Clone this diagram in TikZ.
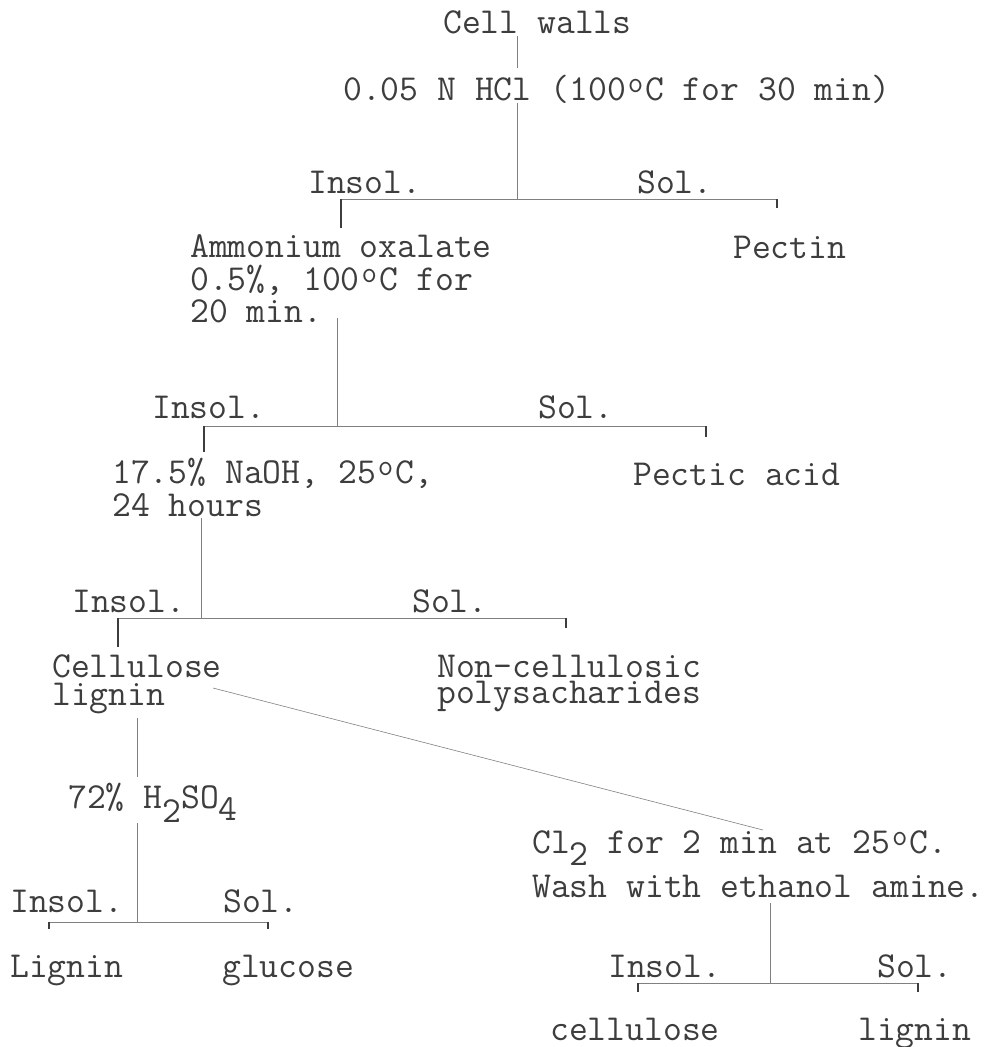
\documentclass[tikz,border=0pt]{standalone}
\usepackage{tikz}
\definecolor{ink}{gray}{0.24}
\definecolor{rule}{gray}{0.5}
\newcommand\degr{\makebox[19.2pt][c]{\raisebox{8pt}{\fontsize{30}{30}\selectfont o}}}
\newcommand\lowsub[2]{\raisebox{-#1}{#2}}
\tikzset{
  txt/.style={anchor=base west, inner sep=0pt, text=ink, text height=20pt, text depth=3pt,
    font=\fontsize{36.6}{37}\selectfont\ttfamily},
  conn/.style={draw=rule, line width=0.6pt},
  tick/.style={draw=ink, line width=1.4pt}
}
\begin{document}
\begin{tikzpicture}[x=1pt,y=-1pt]
\useasboundingbox (0,0) rectangle (993,1047);
% texts
\node[txt] (cw) at (443,33) {Cell walls};
\node[txt] (hcl) at (343,100) {0.05 N HCl (100\degr C for 30 min)};
\node[txt] (insolA) at (308,193) {Insol.};
\node[txt] (solA) at (637,193) {Sol.};
\node[txt] (pectin) at (733,258) {Pectin};
\node[txt] (ammA) at (190,257) {Ammonium oxalate};
\node[txt] (ammB) at (190,290) {0.5\%, 100\degr C for};
\node[txt] (ammC) at (190,322) {20 min.};
\node[txt] (insolB) at (152,418) {Insol.};
\node[txt] (solB) at (538,418) {Sol.};
\node[txt] (naohA) at (112,483) {17.5\% NaOH, 25\degr C,};
\node[txt] (naohB) at (112,516) {24 hours};
\node[txt] (pectic) at (633,485) {Pectic acid};
\node[txt] (insolC) at (72,612) {Insol.};
\node[txt] (solC) at (412,612) {Sol.};
\node[txt] (cellA) at (52,677) {Cellulose};
\node[txt] (cellB) at (52,705) {lignin};
\node[txt] (ncA) at (437,677) {Non-cellulosic};
\node[txt] (ncB) at (437,703) {polysacharides};
\node[txt] (hso) at (68,808) {72\% H\lowsub{14pt}{2}SO\lowsub{12pt}{4}};
\node[txt] (insolD) at (10,912) {Insol.};
\node[txt] (solD) at (223,912) {Sol.};
\node[txt] (ligD) at (10,977) {Lignin};
\node[txt] (glu) at (222,977) {glucose};
\node[txt] (clA) at (532,853) {Cl\lowsub{12pt}{2} for 2 min at 25\degr C.};
\node[txt] (clB) at (532,897) {Wash with ethanol amine.};
\node[txt] (insolE) at (608,977) {Insol.};
\node[txt] (solE) at (877,977) {Sol.};
\node[txt] (celE) at (550,1040) {cellulose};
\node[txt] (ligE) at (858,1040) {lignin};
% junction coordinates
\coordinate (s0a) at (517,36);  \coordinate (s0b) at (517,68);
\coordinate (s1) at (517,103);
\coordinate (J1) at (517,199); \coordinate (L1) at (341,199); \coordinate (R1) at (777,199);
\coordinate (L1t) at (341,228); \coordinate (R1t) at (777,208);
\coordinate (s2) at (337,318);
\coordinate (J2) at (337,426); \coordinate (L2) at (204,426); \coordinate (R2) at (706,426);
\coordinate (L2t) at (204,452); \coordinate (R2t) at (706,437);
\coordinate (s3) at (201,518);
\coordinate (J3) at (201,618); \coordinate (L3) at (118,618); \coordinate (R3) at (566,618);
\coordinate (L3t) at (118,647); \coordinate (R3t) at (566,628);
\coordinate (s4a) at (137,718); \coordinate (s4b) at (137,777); \coordinate (s4c) at (137,823);
\coordinate (J4) at (137,922); \coordinate (L4) at (49,922); \coordinate (R4) at (268,922);
\coordinate (L4t) at (49,929); \coordinate (R4t) at (268,929);
\coordinate (d1) at (213,688); \coordinate (d2) at (763,830);
\coordinate (s5) at (770,903);
\coordinate (J5) at (770,983); \coordinate (L5) at (638,983); \coordinate (R5) at (918,983);
\coordinate (L5t) at (638,992); \coordinate (R5t) at (918,992);
% connectors
\draw[conn] (s0a) -- (s0b);
\draw[conn] (s1) -- (J1);
\draw[conn] (L1) -- (R1);
\draw[tick] (L1) -- (L1t); \draw[tick] (R1) -- (R1t);
\draw[conn] (s2) -- (J2);
\draw[conn] (L2) -- (R2);
\draw[tick] (L2) -- (L2t); \draw[tick] (R2) -- (R2t);
\draw[conn] (s3) -- (J3);
\draw[conn] (L3) -- (R3);
\draw[tick] (L3) -- (L3t); \draw[tick] (R3) -- (R3t);
\draw[conn] (d1) -- (d2);
\draw[conn] (s4a) -- (s4b);
\draw[conn] (s4c) -- (J4);
\draw[conn] (L4) -- (R4);
\draw[tick] (L4) -- (L4t); \draw[tick] (R4) -- (R4t);
\draw[conn] (s5) -- (J5);
\draw[conn] (L5) -- (R5);
\draw[tick] (L5) -- (L5t); \draw[tick] (R5) -- (R5t);
\end{tikzpicture}
\end{document}
